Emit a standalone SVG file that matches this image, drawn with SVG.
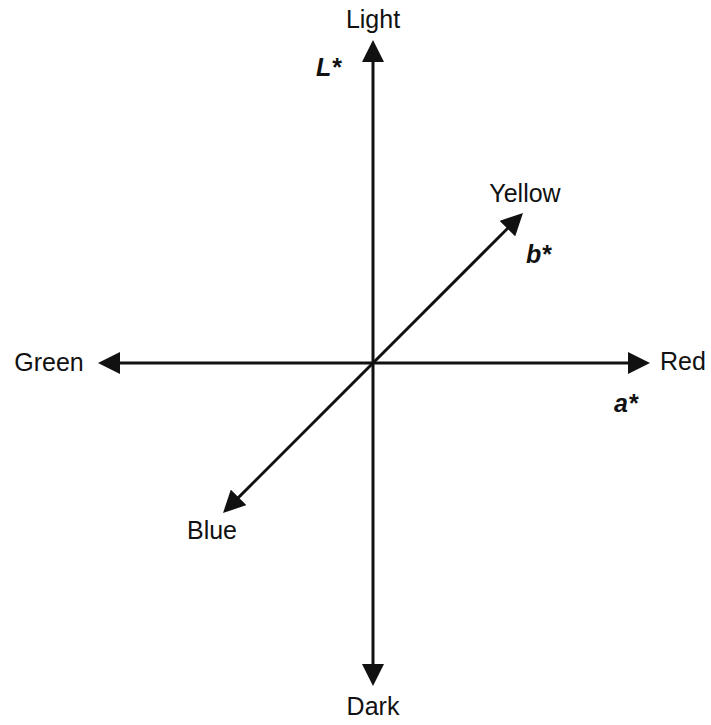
<svg xmlns="http://www.w3.org/2000/svg" width="711" height="725" viewBox="0 0 711 725">
  <style>
    .lbl { font-family: "Liberation Sans", Arial, sans-serif; font-size: 25px; fill: #111; }
    .ax { font-family: "Liberation Sans", Arial, sans-serif; font-size: 25px; font-weight: bold; font-style: italic; fill: #111; }
    .axis { stroke: #111; stroke-width: 3; fill: none; }
  </style>
  <defs>
    <marker id="ah" markerUnits="userSpaceOnUse" markerWidth="22" markerHeight="22" refX="12" refY="11" orient="auto-start-reverse" viewBox="0 0 22 22">
      <path d="M0,0 L22,11 L0,22 Z" fill="#111"/>
    </marker>
  </defs>
  <rect width="711" height="725" fill="#fff"/>
  <g id="connectors">
    <line class="axis" x1="373" y1="50" x2="373" y2="676" marker-start="url(#ah)" marker-end="url(#ah)"/>
    <line class="axis" x1="108" y1="363" x2="640" y2="363" marker-start="url(#ah)" marker-end="url(#ah)"/>
    <line class="axis" x1="230.1" y1="505.9" x2="515.9" y2="220.1" marker-start="url(#ah)" marker-end="url(#ah)"/>
  </g>
  <g id="light"><text class="lbl" x="373" y="28" text-anchor="middle">Light</text></g>
  <g id="dark"><text class="lbl" x="373" y="715" text-anchor="middle">Dark</text></g>
  <g id="green"><text class="lbl" x="49" y="371" text-anchor="middle">Green</text></g>
  <g id="red"><text class="lbl" x="660" y="370">Red</text></g>
  <g id="yellow"><text class="lbl" x="525" y="202" text-anchor="middle">Yellow</text></g>
  <g id="blue"><text class="lbl" x="212" y="539" text-anchor="middle">Blue</text></g>
  <g id="lstar"><text class="ax" x="316" y="76">L*</text></g>
  <g id="bstar"><text class="ax" x="526" y="263">b*</text></g>
  <g id="astar"><text class="ax" x="614" y="412">a*</text></g>
</svg>
